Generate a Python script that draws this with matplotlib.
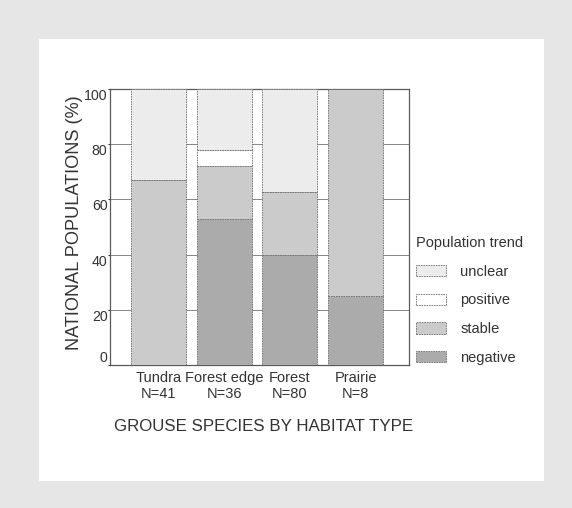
import matplotlib
matplotlib.use("Agg")
import matplotlib.pyplot as plt
from matplotlib.patches import Patch, Rectangle
import numpy as np

plt.rcParams['font.family'] = ['Liberation Sans', 'DejaVu Sans']

# ---- data ----
habitats = ["Tundra", "Forest edge", "Forest", "Prairie"]
n_species = [41, 36, 80, 8]
negative = [0.0, 52.8, 40.0, 25.0]
stable = [67.0, 19.4, 22.5, 75.0]
positive = [0.0, 5.6, 0.0, 0.0]
unclear = [33.0, 22.2, 37.5, 0.0]
yticks = [0, 20, 40, 60, 80, 100]

series = [("negative", negative, "#ababab"),
          ("stable", stable, "#cbcbcb"),
          ("positive", positive, "#ffffff"),
          ("unclear", unclear, "#ececec")]
legend_order = ["unclear", "positive", "stable", "negative"]

W, H = 572, 508
fig = plt.figure(figsize=(W / 100, H / 100), dpi=100)
fig.patch.set_facecolor("#e6e6e6")
fig.patches.append(Rectangle((39 / W, 1 - 481 / H), (544 - 39) / W, (481 - 39) / H,
                             transform=fig.transFigure, facecolor="white",
                             edgecolor="none", zorder=-1))

ax = fig.add_axes([110 / W, 1 - 365 / H, (409 - 110) / W, (365 - 89) / H])
ax.set_zorder(2)
ax.set_facecolor("white")

x = np.arange(len(habitats))
bottom = np.zeros(len(habitats))
colors = {}
for name, vals, col in series:
    vals = np.array(vals)
    ax.bar(x, vals, width=0.835, bottom=bottom, color=col, edgecolor="#6e6e6e",
           linewidth=0.6, linestyle=(0, (2, 1)), zorder=3)
    bottom += vals
    colors[name] = col

ax.set_xlim(-0.734, 3.81)
ax.set_ylim(0, 100)
ax.set_yticks(yticks)
ax.set_yticklabels([str(v) for v in yticks])
ax.yaxis.grid(True, color="#858585", linewidth=0.7, zorder=0)
ax.set_axisbelow(True)

for sp in ax.spines.values():
    sp.set_color("#5a5a5a")
    sp.set_linewidth(0.9)

ax.tick_params(axis="y", length=1.5, pad=0.3, labelsize=10.2, colors="#333333",
               direction="out")
for lab, v in zip(ax.get_yticklabels(), yticks):
    lab.set_va("bottom" if v == 0 else "top")

ax.set_xticks(x)
ax.set_xticklabels([f"{h}\nN={n}" for h, n in zip(habitats, n_species)],
                   linespacing=1.15)
ax.tick_params(axis="x", length=0, pad=4.5, labelsize=10.5, colors="#333333")

ax.set_ylabel("NATIONAL POPULATIONS (%)", fontsize=13.1, color="#333333",
              labelpad=0.5)
ax.yaxis.label.set_y(0.516)
ax.set_xlabel("GROUSE SPECIES BY HABITAT TYPE", fontsize=12.2, color="#333333",
              labelpad=13)
ax.xaxis.label.set_x(0.512)

handles = [Patch(facecolor=colors[nm], edgecolor="#6e6e6e", linewidth=0.6,
                 linestyle=(0, (2, 1)), label=nm) for nm in legend_order]
leg = fig.legend(handles=handles, loc="upper left",
                 bbox_to_anchor=(396 / W, 1 - 216.5 / H),
                 frameon=False, title="Population trend", title_fontsize=10.5,
                 fontsize=10.5, handlelength=2.05, handleheight=0.82,
                 handletextpad=1.0, labelspacing=1.0, borderpad=0.85,
                 alignment="left", labelcolor="#333333")
leg.get_title().set_color("#333333")

fig.savefig("out.png", dpi=100, facecolor=fig.get_facecolor())
